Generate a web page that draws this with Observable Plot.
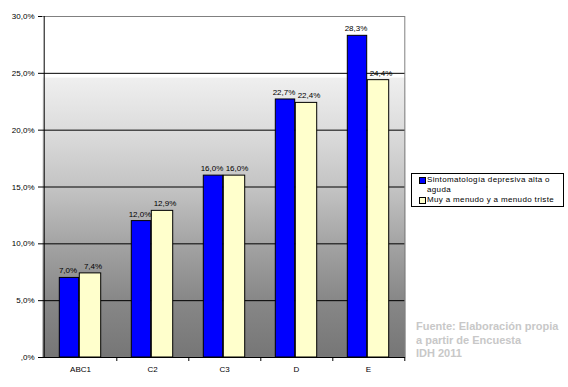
<!DOCTYPE html>
<html><head><meta charset="utf-8">
<script src="https://cdn.jsdelivr.net/npm/d3@7"></script>
<script src="https://cdn.jsdelivr.net/npm/@observablehq/plot@0.6"></script>
<style>
body{margin:0;background:#fff;font-family:"Liberation Sans",Arial,sans-serif;}
#wrap{position:relative;width:568px;height:387px;}
#legend{position:absolute;left:411px;top:173px;width:153px;height:34px;border:1px solid #000;background:#fff;font-size:8px;line-height:10px;padding-top:1px;box-sizing:border-box;letter-spacing:0.35px;}
#legend .row{position:relative;padding-left:15px;padding-right:4px;}
#legend .sw{position:absolute;left:7px;top:2px;width:5px;height:5px;border:1px solid #000;}
#caption{position:absolute;left:416px;top:320px;font-size:11px;font-weight:bold;color:#c8c8c8;line-height:13.5px;}
</style></head>
<body><div id="wrap"></div>
<script>
const categories = ["ABC1", "C2", "C3", "D", "E"];
const seriesNames = ["Sintomatología depresiva alta o aguda", "Muy a menudo y a menudo triste"];
const series1 = [7.0, 12.0, 16.0, 22.7, 28.3];
const series2 = [7.4, 12.9, 16.0, 22.4, 24.4];
const yTicks = [0, 5, 10, 15, 20, 25, 30];
const yTickLabels = [",0%", "5,0%", "10,0%", "15,0%", "20,0%", "25,0%", "30,0%"];
const captionLines = ["Fuente: Elaboración propia", "a partir de Encuesta", "IDH 2011"];

const colors = ["#0000ff", "#ffffcc"];
const d1 = categories.map((c, i) => ({cat: c, value: series1[i]}));
const d2 = categories.map((c, i) => ({cat: c, value: series2[i]}));
const fmt = v => v.toFixed(1).replace(".", ",") + "%";

const W = 568, H = 387, mL = 42, mR = 163, mT = 16, mB = 30;
const step = (W - mL - mR) / categories.length;
const half = step / 2, bw = 21;

const plot = Plot.plot({
  width: W, height: H,
  marginLeft: mL, marginRight: mR, marginTop: mT, marginBottom: mB,
  style: {fontFamily: '"Liberation Sans", Arial, sans-serif', fontSize: "8px", color: "#000", background: "transparent"},
  x: {domain: categories, padding: 0, axis: null, label: null},
  y: {domain: [0, 30], axis: null, label: null},
  marks: [
    Plot.frame({fill: "url(#bg)", stroke: "none"}),
    Plot.ruleY(yTicks.slice(1, -1), {stroke: "#000", strokeWidth: 1}),
    Plot.ruleY([30], {stroke: "#808080"}),
    Plot.ruleX([categories[categories.length - 1]], {dx: half, stroke: "#808080"}),
    Plot.barY(d1, {x: "cat", y: "value", fill: colors[0], stroke: "#000", strokeWidth: 1, insetLeft: half - bw, insetRight: half + 1}),
    Plot.barY(d2, {x: "cat", y: "value", fill: colors[1], stroke: "#000", strokeWidth: 1, insetLeft: half - 1, insetRight: half - bw}),
    Plot.text(d1, {x: "cat", y: "value", text: d => fmt(d.value), dx: -bw / 2 - 2, dy: -7, fill: "#000", fontSize: 8, letterSpacing: 0.3}),
    Plot.text(d2, {x: "cat", y: "value", text: d => fmt(d.value), dx: bw / 2 + 2, dy: -7, fill: "#000", fontSize: 8, letterSpacing: 0.3}),
    Plot.axisY(yTicks, {label: null, tickSize: 4, tickPadding: 4, tickFormat: d => yTickLabels[yTicks.indexOf(d)], stroke: "#000", fill: "#000"}),
    Plot.ruleX([categories[0]], {dx: -half, stroke: "#000"}),
    Plot.ruleY([0], {stroke: "#000"}),
    Plot.axisX(categories, {label: null, tickSize: 4, dx: half, tickFormat: () => "", stroke: "#000"}),
    Plot.axisX(categories, {label: null, tickSize: 0, tickPadding: 9, fill: "#000", letterSpacing: 0.4})
  ]
});

const svg = d3.select(plot);
const defs = svg.insert("defs", ":first-child");
const g = defs.append("linearGradient").attr("id", "bg").attr("x1", 0).attr("y1", 0).attr("x2", 0).attr("y2", 1);
[[0, "#ffffff"], [0.178, "#ffffff"], [0.18, "#efefef"], [0.35, "#dadada"], [0.51, "#c2c2c2"], [0.686, "#a0a0a0"], [0.833, "#878787"], [1, "#767676"]]
  .forEach(([o, c]) => g.append("stop").attr("offset", o).attr("stop-color", c));

const wrap = document.getElementById("wrap");
wrap.appendChild(plot);

const leg = document.createElement("div");
leg.id = "legend";
leg.innerHTML = seriesNames.map((n, i) => `<div class="row"><span class="sw" style="background:${colors[i]}"></span>${n}</div>`).join("");
wrap.appendChild(leg);

const cap = document.createElement("div");
cap.id = "caption";
cap.innerHTML = captionLines.join("<br>");
wrap.appendChild(cap);
</script></body></html>
